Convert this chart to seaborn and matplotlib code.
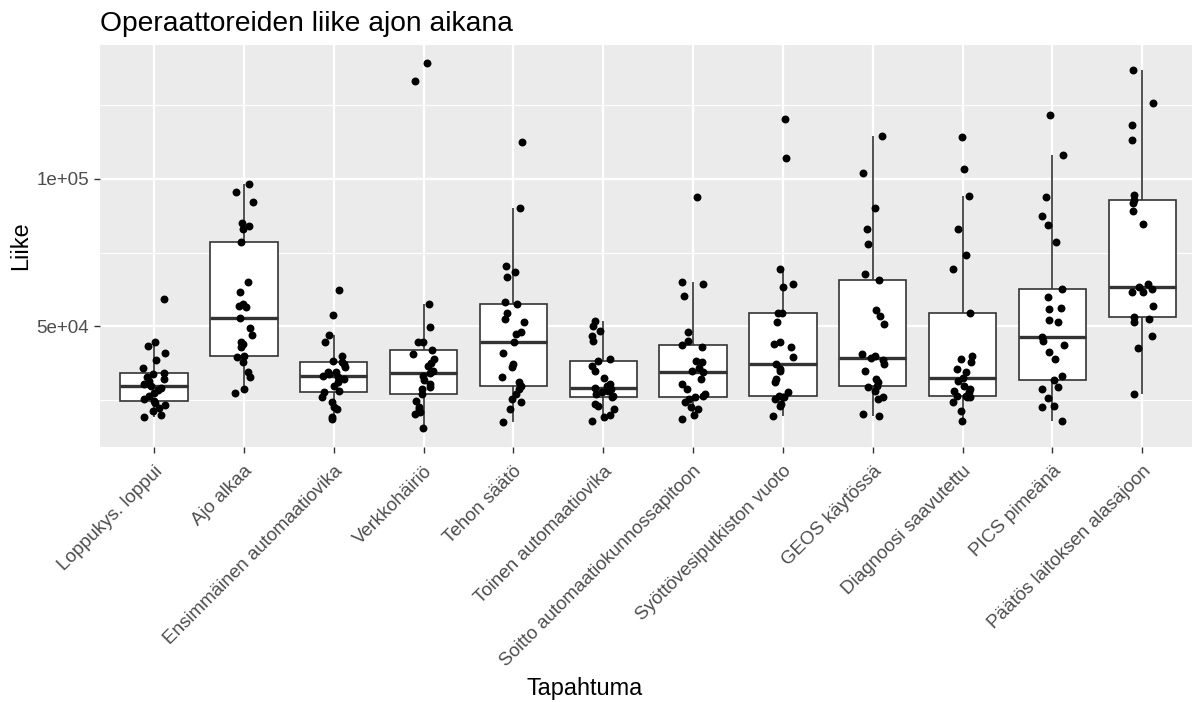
import numpy as np
import pandas as pd
import matplotlib
matplotlib.use("Agg")
import matplotlib.pyplot as plt
import seaborn as sns
from matplotlib.ticker import FixedLocator

categories = [
    "Loppukys. loppui", "Ajo alkaa", "Ensimmäinen automaatiovika", "Verkkohäiriö",
    "Tehon säätö", "Toinen automaatiovika", "Soitto automaatiokunnossapitoon",
    "Syöttövesiputkiston vuoto", "GEOS käytössä", "Diagnoosi saavutettu",
    "PICS pimeänä", "Päätös laitoksen alasajoon",
]

loppukys = [19500, 20000, 21500, 22500, 23500, 24000, 24700, 25500, 26500, 27500, 28500, 29200,
            29750, 30500, 31500, 32300, 33000, 33800, 34250, 36000, 38500, 41000, 43500, 44800, 59200]
ajo_alkaa = [27400, 28800, 32800, 34500, 38100, 39500, 40100, 43100, 44000, 44600, 47100, 49300,
             53000, 56500, 57000, 57600, 61800, 64900, 78400, 82900, 84000, 84900, 92100, 95300, 98100]
ens_vika = [18700, 19300, 22100, 22600, 24300, 26000, 27700, 28300, 30000, 31100, 32200, 32800,
            33350, 33900, 34500, 34700, 36200, 37300, 37900, 38400, 40100, 44600, 47100, 54000, 62400]
verkko = [15500, 20400, 21000, 22100, 22700, 24900, 27100, 28900, 29400, 30500, 32000, 33400,
          34250, 35000, 36500, 37500, 39000, 40600, 42000, 44600, 44800, 49700, 57500, 133000, 139000]
tehon = [17600, 22100, 24300, 25500, 27100, 28800, 29700, 31100, 32800, 36200, 37300, 41000,
         44600, 47400, 48000, 51400, 52500, 54400, 57600, 58100, 66600, 68300, 70500, 90000, 112400]
toinen_vika = [18100, 19300, 20000, 22100, 23200, 23800, 26000, 26600, 27200, 27700, 28300, 28800,
               29050, 30000, 30500, 32400, 35000, 36700, 38400, 39000, 45200, 46900, 48500, 50200, 51900]
soitto = [18700, 20000, 22100, 22600, 24300, 25500, 26000, 26600, 27100, 29000, 30500, 32200,
          34450, 35000, 36000, 37900, 38400, 42900, 43700, 45200, 48000, 60400, 64300, 64900, 93800]
syotto = [19800, 23200, 23800, 25500, 26000, 26300, 26600, 27700, 31100, 32200, 35000, 35600,
          37300, 39500, 42900, 44000, 44600, 51400, 54400, 54700, 63200, 64300, 69400, 107100, 120300]
geos = [19800, 20400, 25500, 26000, 28300, 29400, 29700, 31100, 32200, 35000, 37300, 38500,
        39200, 40100, 40700, 50800, 53600, 55500, 65700, 67700, 77800, 82900, 90000, 101800, 114400]
diagnoosi = [18100, 21500, 24300, 26000, 26200, 26400, 26600, 27700, 28300, 28800, 30000, 31700,
             32400, 34500, 35600, 37900, 39000, 40100, 54400, 69400, 74100, 83100, 94100, 103400, 113900]
pics = [18100, 22600, 23000, 25700, 28800, 29400, 32000, 33300, 39000, 41200, 43700, 45000,
        46300, 51600, 52300, 55900, 56400, 59800, 62800, 78400, 84200, 87400, 93800, 107900, 121400]
paatos = [27100, 42600, 46900, 51600, 52500, 53300, 57000, 61500, 61500, 62500, 63200,
          64500, 84600, 88900, 91900, 92700, 94400, 113000, 118000, 125700, 136700]

series = [loppukys, ajo_alkaa, ens_vika, verkko, tehon, toinen_vika, soitto,
          syotto, geos, diagnoosi, pics, paatos]

df = pd.DataFrame({
    "Tapahtuma": [c for c, s in zip(categories, series) for _ in s],
    "Liike": [v for s in series for v in s],
})

sns.set_theme(style="darkgrid")
plt.rcParams["font.family"] = ["Liberation Sans", "DejaVu Sans"]

W, H = 1192, 702
fig = plt.figure(figsize=(W / 100, H / 100), dpi=100)
ax = fig.add_axes([100.1 / W, 1 - 446.7 / H, 1096.1 / W, (446.7 - 45) / H])

sns.boxplot(data=df, x="Tapahtuma", y="Liike", order=categories, ax=ax,
            color="white", saturation=1, width=0.75, linecolor="#333333",
            linewidth=1.2, showfliers=False, showcaps=False,
            medianprops={"linewidth": 2.4, "color": "#333333"})
np.random.seed(7)
sns.stripplot(data=df, x="Tapahtuma", y="Liike", order=categories, ax=ax,
              color="black", size=5.7, jitter=0.13, linewidth=0, zorder=4)

vals = df["Liike"].to_numpy()
rng = vals.max() - vals.min()
ax.set_ylim(vals.min() - 0.05 * rng, vals.max() + 0.05 * rng)
ax.set_xlim(-0.6, len(categories) - 0.4)

ax.set_facecolor("#EBEBEB")
for s in ax.spines.values():
    s.set_visible(False)
ax.yaxis.set_major_locator(FixedLocator([50000, 100000]))
ax.yaxis.set_minor_locator(FixedLocator([25000, 75000, 125000]))
ax.set_yticklabels(["5e+04", "1e+05"])
ax.grid(which="major", color="white", linewidth=1.6)
ax.grid(which="minor", axis="y", color="white", linewidth=0.8)
ax.set_axisbelow(True)

ax.set_xticks(range(len(categories)))
ax.set_xticklabels(categories, rotation=45, ha="right", va="top", rotation_mode="anchor")
ax.tick_params(axis="both", which="major", length=4.5, width=1.0, color="#333333",
               labelcolor="#4D4D4D", labelsize=13.5, bottom=True, left=True)
ax.tick_params(axis="y", which="minor", length=0)
ax.tick_params(axis="x", pad=7)
ax.tick_params(axis="y", pad=3.5)
ax.set_xlabel("")
ax.set_ylabel("")

fig.text(100 / W, 1 - 31 / H, "Operaattoreiden liike ajon aikana", fontsize=20.3,
         color="black", ha="left", va="baseline")
fig.text(21 / W, 1 - 246 / H, "Liike", fontsize=16.9, rotation=90, ha="center",
         va="center", color="black")
fig.text(585 / W, 1 - 695 / H, "Tapahtuma", fontsize=16.9, ha="center",
         va="baseline", color="black")

fig.savefig("out.png", dpi=100)
